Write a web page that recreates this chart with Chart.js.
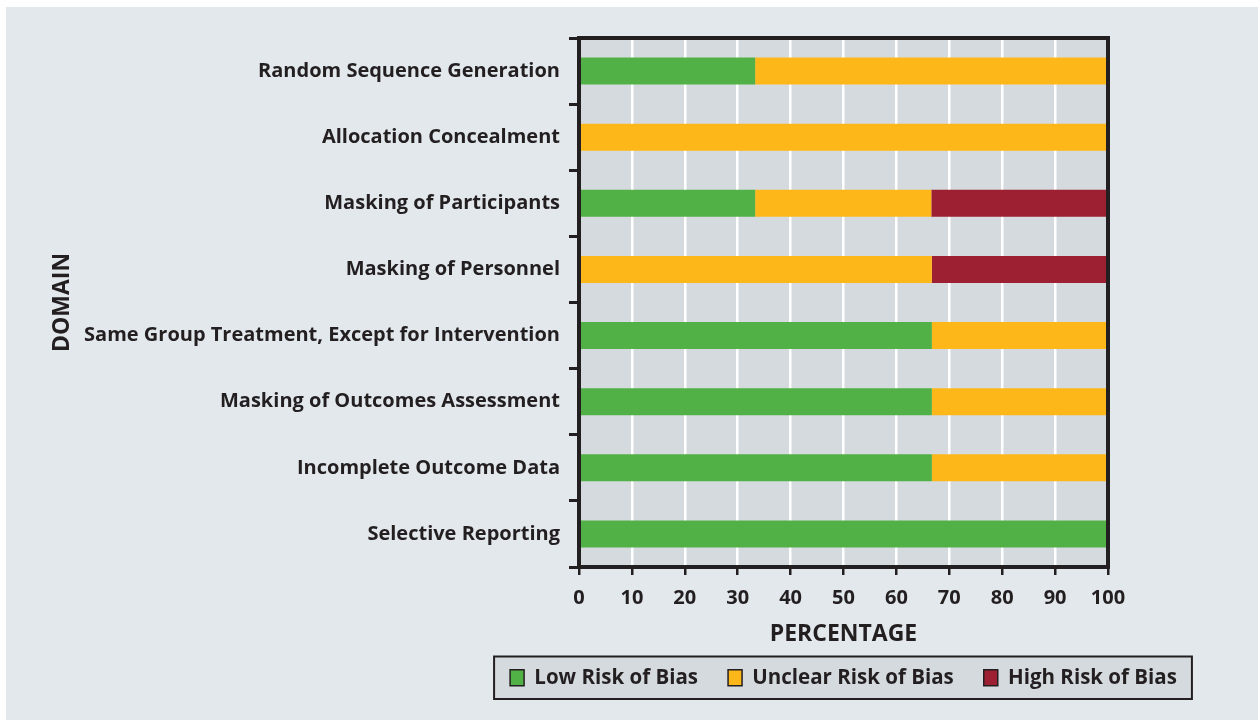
<!DOCTYPE html>
<html>
<head>
<meta charset="utf-8">
<script src="https://cdn.jsdelivr.net/npm/chart.js@4.4.1/dist/chart.umd.min.js"></script>
<style>
  html, body { margin: 0; padding: 0; background: #ffffff; }
  #panel { position: absolute; left: 6px; top: 7px; width: 1252px; height: 713px; background: #e3e8ec; }
  #wrap { position: absolute; left: 0; top: 0; width: 1246px; height: 707px; }
</style>
</head>
<body>
<div id="panel"><div id="wrap"><canvas id="c" width="1246" height="707"></canvas></div></div>
<script>
const categories = [
  'Random Sequence Generation',
  'Allocation Concealment',
  'Masking of Participants',
  'Masking of Personnel',
  'Same Group Treatment, Except for Intervention',
  'Masking of Outcomes Assessment',
  'Incomplete Outcome Data',
  'Selective Reporting'
];
const lowRisk     = [33.3, 0,   33.3, 0,    66.7, 66.7, 66.7, 100];
const unclearRisk = [66.7, 100, 33.3, 66.7, 33.3, 33.3, 33.3, 0];
const highRisk    = [0,    0,   33.3, 33.3, 0,    0,    0,    0];
const seriesNames = ['Low Risk of Bias', 'Unclear Risk of Bias', 'High Risk of Bias'];
const xTicks = [0, 10, 20, 30, 40, 50, 60, 70, 80, 90, 100];

const DARK = '#231f20';
const FONT = "'Open Sans', sans-serif";

const framePlugin = {
  id: 'frame',
  afterLayout(chart) {
    // center the legend under the plot area
    const lg = chart.legend;
    const a = chart.chartArea;
    if (!lg) return;
    const dx = (a.left + a.right) / 2 - (lg.left + lg.right) / 2;
    lg.left += dx; lg.right += dx;
    (lg.legendHitBoxes || []).forEach(h => { h.left += dx; });
  },
  beforeDraw(chart) {
    const ctx = chart.ctx;
    const a = chart.chartArea;
    ctx.save();
    ctx.fillStyle = '#d5dadf';
    ctx.fillRect(a.left, a.top, a.right - a.left, a.bottom - a.top);
    const hb = chart.legend && chart.legend.legendHitBoxes;
    if (hb && hb.length) {
      const first = hb[0], last = hb[hb.length - 1];
      const l = first.left - 16, r = last.left + last.width + 15;
      const t = first.top - 11, b = first.top + first.height + 11;
      ctx.fillStyle = '#d5dadf';
      ctx.fillRect(l, t, r - l, b - t);
      ctx.strokeStyle = DARK;
      ctx.lineWidth = 2;
      ctx.strokeRect(l, t, r - l, b - t);
    }
    ctx.restore();
  },
  afterDatasetsDraw(chart) {
    const ctx = chart.ctx;
    const a = chart.chartArea;
    ctx.save();
    ctx.strokeStyle = DARK;
    ctx.lineWidth = 4;
    ctx.strokeRect(a.left, a.top, a.right - a.left, a.bottom - a.top);
    ctx.restore();
  }
};

new Chart(document.getElementById('c'), {
  type: 'bar',
  data: {
    labels: categories,
    datasets: [
      { label: seriesNames[0], data: lowRisk, backgroundColor: '#52b146' },
      { label: seriesNames[1], data: unclearRisk, backgroundColor: '#fdb718' },
      { label: seriesNames[2], data: highRisk, backgroundColor: '#9d2032' }
    ]
  },
  options: {
    indexAxis: 'y',
    responsive: false,
    animation: false,
    devicePixelRatio: 1,
    layout: { padding: { top: 31, right: 144, bottom: 16, left: 0 } },
    datasets: { bar: { barPercentage: 0.41, categoryPercentage: 1, borderWidth: 0 } },
    scales: {
      x: {
        stacked: true,
        min: 0, max: 100,
        afterBuildTicks(scale) { scale.ticks = xTicks.map(v => ({ value: v })); },
        afterFit(scale) { scale.height = 70.5; },
        border: { display: false },
        grid: { color: '#ffffff', lineWidth: 2.5, tickColor: DARK, tickWidth: 2.5, tickLength: 8 },
        ticks: { color: DARK, padding: 11, maxRotation: 0, font: { family: FONT, weight: 'bold', size: 20 } },
        title: { display: true, text: 'PERCENTAGE', color: DARK, padding: { top: 0, bottom: 0 },
                 font: { family: FONT, weight: 'bold', size: 23, lineHeight: 0.3 } }
      },
      y: {
        stacked: true,
        afterFit(scale) { scale.width = 573; },
        border: { display: false },
        grid: { offset: true, drawOnChartArea: false, tickColor: DARK, tickWidth: 3, tickLength: 10 },
        ticks: { color: DARK, padding: 9, font: { family: FONT, weight: 'bold', size: 20 } },
        title: { display: true, text: 'DOMAIN', color: DARK, padding: { top: 43, bottom: 0 },
                 font: { family: FONT, weight: 'bold', size: 23, lineHeight: 1.2 } }
      }
    },
    plugins: {
      tooltip: { enabled: false },
      legend: {
        position: 'bottom',
        labels: {
          color: DARK,
          boxWidth: 14,
          boxHeight: 16,
          padding: 30,
          font: { family: FONT, weight: 'bold', size: 20.5 },
          generateLabels(chart) {
            const items = Chart.defaults.plugins.legend.labels.generateLabels(chart);
            items.forEach(it => { it.strokeStyle = DARK; it.lineWidth = 1.5; });
            return items;
          }
        }
      }
    }
  },
  plugins: [framePlugin]
});
</script>
</body>
</html>
